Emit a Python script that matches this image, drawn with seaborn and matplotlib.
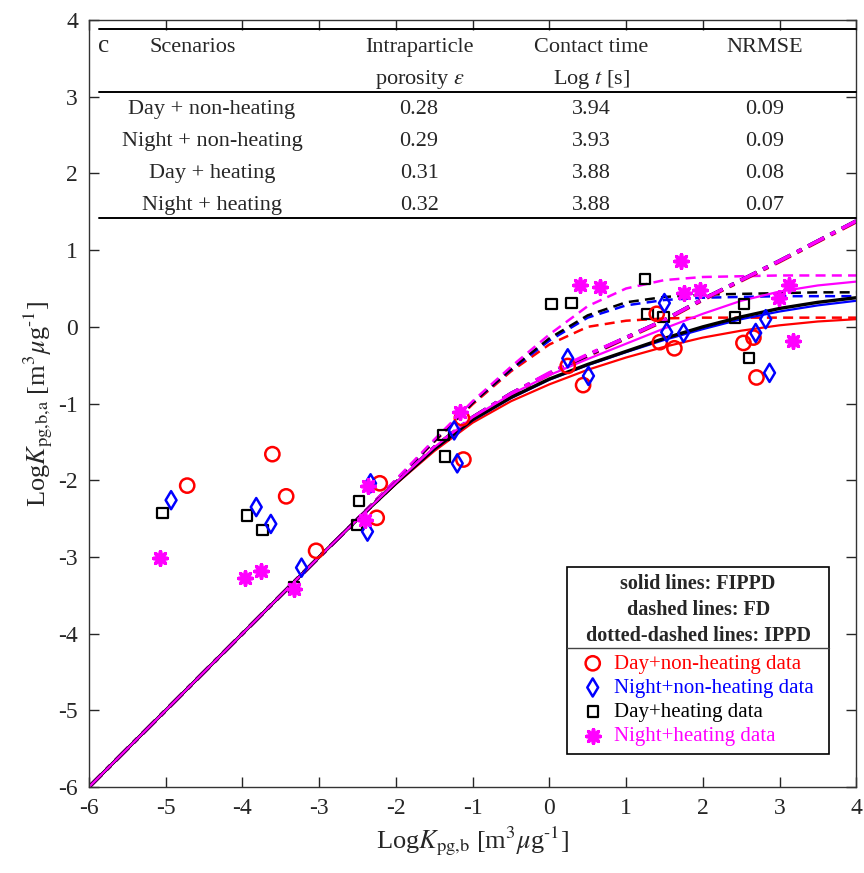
import numpy as np
import pandas as pd
import seaborn as sns
import matplotlib
matplotlib.use('Agg')
import matplotlib.pyplot as plt
from matplotlib.patches import Rectangle

# table in the top of the panel
scenarios = ['Day + non-heating', 'Night + non-heating', 'Day + heating', 'Night + heating']
porosity = ['0.28', '0.29', '0.31', '0.32']
contact_time = ['3.94', '3.93', '3.88', '3.88']
nrmse = ['0.09', '0.09', '0.08', '0.07']

day_nh_x = [-4.72, -3.61, -3.43, -3.04, -2.21, -2.25, -1.14, -1.12, 0.24, 0.44, 1.40, 1.44, 1.63, 2.53, 2.66, 2.70]
day_nh_y = [-2.07, -1.66, -2.21, -2.92, -2.04, -2.49, -1.19, -1.73, -0.51, -0.76, 0.17, -0.20, -0.28, -0.21, -0.14, -0.66]
night_nh_x = [-4.93, -3.82, -3.63, -3.23, -2.33, -2.37, -1.24, -1.20, 0.24, 0.51, 1.50, 1.53, 1.75, 2.82, 2.69, 2.87]
night_nh_y = [-2.26, -2.35, -2.57, -3.14, -2.04, -2.67, -1.35, -1.78, -0.41, -0.64, 0.31, -0.07, -0.08, 0.10, -0.08, -0.60]
day_h_x = [-5.04, -3.94, -3.74, -3.33, -2.48, -2.51, -1.38, -1.36, 0.03, 0.29, 1.25, 1.28, 1.49, 2.54, 2.42, 2.60]
day_h_y = [-2.43, -2.46, -2.65, -3.40, -2.27, -2.58, -1.41, -1.69, 0.30, 0.31, 0.62, 0.17, 0.13, 0.30, 0.12, -0.41]
night_h_x = [-5.07, -3.97, -3.76, -3.33, -2.36, -2.40, -1.16, 0.40, 0.66, 1.72, 1.75, 1.96, 3.13, 2.99, 3.18]
night_h_y = [-3.02, -3.27, -3.18, -3.42, -2.08, -2.52, -1.11, 0.54, 0.52, 0.86, 0.44, 0.48, 0.55, 0.37, -0.19]

# model curves
curve_x = [-6, -3, -2.5, -2, -1.5, -1, -0.5, 0, 0.5, 1, 1.5, 2, 2.5, 3, 3.5, 4]
# FIPPD - solid
fippd_day_nh = [-6, -3.0, -2.51, -2.05, -1.62, -1.25, -0.97, -0.75, -0.56, -0.40, -0.26, -0.14, -0.05, 0.02, 0.07, 0.10]
fippd_night_nh = [-6, -3.0, -2.51, -2.04, -1.60, -1.22, -0.93, -0.69, -0.50, -0.33, -0.17, -0.03, 0.10, 0.20, 0.28, 0.34]
fippd_day_h = [-6, -3.0, -2.51, -2.04, -1.59, -1.21, -0.92, -0.68, -0.49, -0.32, -0.15, 0.00, 0.13, 0.24, 0.32, 0.38]
fippd_night_h = [-6, -3.0, -2.51, -2.03, -1.57, -1.18, -0.88, -0.63, -0.42, -0.22, -0.02, 0.17, 0.34, 0.46, 0.54, 0.59]
# FD - dashed
fd_day_nh = [-6, -3.0, -2.5, -2.0, -1.5, -1.01, -0.58, -0.23, 0.0, 0.08, 0.11, 0.12, 0.12, 0.12, 0.12, 0.12]
fd_night_nh = [-6, -3.0, -2.5, -2.0, -1.49, -0.99, -0.56, -0.18, 0.12, 0.28, 0.35, 0.38, 0.39, 0.40, 0.40, 0.40]
fd_day_h = [-6, -3.0, -2.5, -2.0, -1.49, -0.99, -0.55, -0.15, 0.15, 0.32, 0.39, 0.42, 0.43, 0.44, 0.45, 0.45]
fd_night_h = [-6, -3.0, -2.5, -1.99, -1.47, -0.97, -0.52, -0.10, 0.27, 0.50, 0.61, 0.65, 0.66, 0.67, 0.67, 0.67]
# IPPD - dotted-dashed
ippd_day_nh = [-6, -3.0, -2.51, -2.03, -1.58, -1.19, -0.88, -0.62, -0.38, -0.15, 0.08, 0.35, 0.60, 0.85, 1.11, 1.37]
ippd_night_nh = [-6, -3.0, -2.51, -2.03, -1.57, -1.18, -0.87, -0.61, -0.37, -0.14, 0.09, 0.36, 0.61, 0.86, 1.12, 1.38]
ippd_day_h = [-6, -3.0, -2.51, -2.03, -1.57, -1.18, -0.87, -0.61, -0.37, -0.14, 0.09, 0.36, 0.61, 0.86, 1.12, 1.38]
ippd_night_h = [-6, -3.0, -2.51, -2.03, -1.57, -1.18, -0.87, -0.60, -0.36, -0.14, 0.09, 0.36, 0.61, 0.86, 1.12, 1.38]

labels = ['Day+non-heating data', 'Night+non-heating data', 'Day+heating data', 'Night+heating data']
colors = ['#FF0000', '#0000FF', '#000000', '#FF00FF']

sns.set_style('ticks')
plt.rcParams['font.family'] = ['Liberation Serif', 'DejaVu Serif']
plt.rcParams['mathtext.fontset'] = 'stix'
plt.rcParams['axes.unicode_minus'] = False

fig = plt.figure(figsize=(8.64, 8.73), dpi=100)
ax = fig.add_axes([0.103, 0.0985, 0.888, 0.8785])

#model lines: FD dashed, IPPD dash-dot, FIPPD solid
fd = [fd_day_nh, fd_night_nh, fd_day_h, fd_night_h]
ippd = [ippd_day_nh, ippd_night_nh, ippd_day_h, ippd_night_h]
fippd = [fippd_day_nh, fippd_night_nh, fippd_day_h, fippd_night_h]
for vals, c in zip(fd, colors):
    sns.lineplot(x=curve_x, y=vals, color=c, lw=1.8, linestyle=(0, (4, 2.5)), ax=ax, zorder=2)
for vals, c in zip(ippd, colors):
    sns.lineplot(x=curve_x, y=vals, color=c, lw=2.6, linestyle=(0, (5, 2, 1.5, 2)), ax=ax, zorder=2)
for vals, c in zip(fippd, colors):
    lw = 2.4 if c == '#000000' else 1.6
    sns.lineplot(x=curve_x, y=vals, color=c, lw=lw, ax=ax, zorder=2)

# data points
sns.scatterplot(x=day_h_x, y=day_h_y, marker='s', s=55, facecolor='none', edgecolor=colors[2],
                color=colors[2], linewidth=1.6, ax=ax, zorder=3, label=labels[2])
sns.scatterplot(x=day_nh_x, y=day_nh_y, marker='o', s=105, facecolor='none', edgecolor=colors[0],
                color=colors[0], linewidth=1.8, ax=ax, zorder=3, label=labels[0])
sns.scatterplot(x=night_nh_x, y=night_nh_y, marker='d', s=85, facecolor='none', edgecolor=colors[1],
                color=colors[1], linewidth=1.8, ax=ax, zorder=3, label=labels[1])
sns.scatterplot(x=night_h_x, y=night_h_y, marker=(8, 2, 0), s=95, edgecolor=colors[3],
                color=colors[3], linewidth=2.6, ax=ax, zorder=3, label=labels[3])

ax.set_xlim(-6, 4)
ax.set_ylim(-6, 4)
ax.set_xticks(range(-6, 5))
ax.set_yticks(range(-6, 5))
ax.tick_params(direction='in', top=True, right=True, length=7, width=1, labelsize=17, pad=8)
for sp in ax.spines.values():
    sp.set_linewidth(1)
    sp.set_color('#333333')

ax.set_xlabel(r'Log$K_{\text{pg,b}}$ [m$^3$$\mu$g$^{\text{-1}}$]', fontsize=19, labelpad=4)
ax.set_ylabel(r'Log$K_{\text{pg,b,a}}$ [m$^3$$\mu$g$^{\text{-1}}$]', fontsize=19, labelpad=2)

# table (axes fraction coords)
def fx(px):
    return (px - 89) / 767
def fy(py):
    return (787 - py) / 767

tk = dict(transform=ax.transAxes, fontsize=16, ha='center', va='center', zorder=6)
for yy in [29, 92, 218]:
    ax.plot([fx(99), fx(856)], [fy(yy), fy(yy)], transform=ax.transAxes, color='black', lw=1.4, zorder=6, clip_on=False)
ax.text(fx(104), fy(46), 'c', fontsize=18, transform=ax.transAxes, ha='center', va='center', zorder=6)
ax.text(fx(193), fy(47), 'Scenarios', **tk)
ax.text(fx(419), fy(47), 'Intraparticle', **tk)
ax.text(fx(420), fy(79), r'porosity $\varepsilon$', **tk)
ax.text(fx(591), fy(47), 'Contact time', **tk)
ax.text(fx(591), fy(79), r'Log $t$ [s]', **tk)
ax.text(fx(764), fy(47), 'NRMSE', **tk)
row_py = [109, 141, 173, 205]
for i in range(len(scenarios)):
    ax.text(fx(212), fy(row_py[i]), scenarios[i], **tk)
    ax.text(fx(419), fy(row_py[i]), porosity[i], **tk)
    ax.text(fx(591), fy(row_py[i]), contact_time[i], **tk)
    ax.text(fx(764), fy(row_py[i]), nrmse[i], **tk)

# legend box
ax.add_patch(Rectangle((fx(567), fy(754)), fx(829) - fx(567), fy(567) - fy(754), transform=ax.transAxes,
                       facecolor='white', edgecolor='black', lw=1.2, zorder=5))
ax.plot([fx(567), fx(829)], [fy(648), fy(648)], transform=ax.transAxes, color='#444444', lw=1, zorder=6)
bk = dict(transform=ax.transAxes, fontsize=14.5, fontweight='bold', ha='center', va='center', zorder=6)
ax.text(fx(698), fy(584), 'solid lines: FIPPD', **bk)
ax.text(fx(698), fy(610), 'dashed lines: FD', **bk)
ax.text(fx(698), fy(636), 'dotted-dashed lines: IPPD', **bk)

handles, labs = ax.get_legend_handles_labels()
order = [labs.index(l) for l in labels]
leg = ax.legend([handles[i] for i in order], labels, loc='upper left', bbox_to_anchor=(fx(578), fy(650)),
                frameon=False, fontsize=15, handletextpad=0.5, labelspacing=0.22, borderaxespad=0,
                borderpad=0.2, handlelength=1.0)
leg.set_zorder(7)
for t, c in zip(leg.get_texts(), colors):
    t.set_color(c)

fig.savefig('out.png', dpi=100)
